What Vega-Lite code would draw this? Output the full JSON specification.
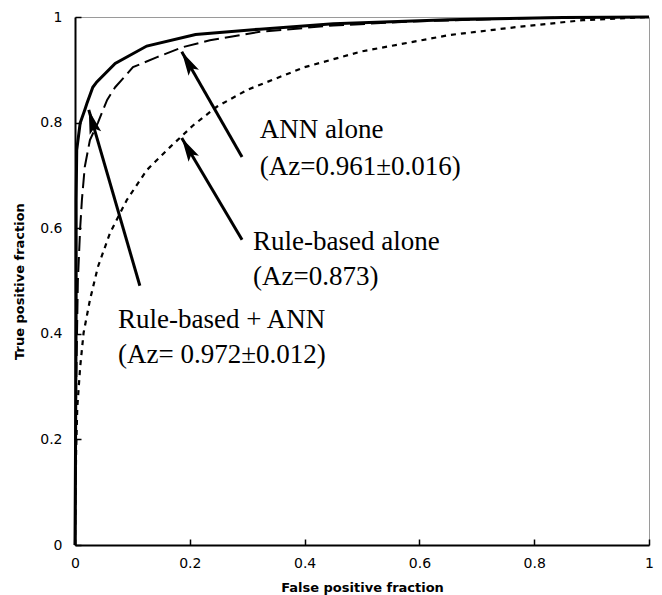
{
  "$schema": "https://vega.github.io/schema/vega-lite/v6.json",
  "width": 574,
  "height": 528,
  "autosize": "none",
  "padding": {"left": 75, "top": 17, "right": 13, "bottom": 50},
  "background": "white",
  "config": {
    "view": {"stroke": "#9a9a9a", "strokeWidth": 1},
    "axis": {
      "domainColor": "black",
      "domainWidth": 2,
      "tickColor": "black",
      "tickWidth": 1.5,
      "tickSize": -6,
      "grid": false,
      "labelFont": "DejaVu Sans",
      "labelFontSize": 14,
      "labelColor": "black",
      "titleFont": "DejaVu Sans",
      "titleFontSize": 13,
      "titleFontWeight": "bold",
      "titleColor": "black"
    }
  },
  "datasets": {
    "roc": [
      {"series": "combo", "fpf": 0, "tpf": 0},
      {"series": "combo", "fpf": 0.001, "tpf": 0.2},
      {"series": "combo", "fpf": 0.002, "tpf": 0.45},
      {"series": "combo", "fpf": 0.002, "tpf": 0.653},
      {"series": "combo", "fpf": 0.003, "tpf": 0.748},
      {"series": "combo", "fpf": 0.009, "tpf": 0.799},
      {"series": "combo", "fpf": 0.017, "tpf": 0.824},
      {"series": "combo", "fpf": 0.021, "tpf": 0.837},
      {"series": "combo", "fpf": 0.031, "tpf": 0.867},
      {"series": "combo", "fpf": 0.038, "tpf": 0.877},
      {"series": "combo", "fpf": 0.07, "tpf": 0.912},
      {"series": "combo", "fpf": 0.125, "tpf": 0.945},
      {"series": "combo", "fpf": 0.21, "tpf": 0.967},
      {"series": "combo", "fpf": 0.322, "tpf": 0.977},
      {"series": "combo", "fpf": 0.45, "tpf": 0.987},
      {"series": "combo", "fpf": 0.65, "tpf": 0.995},
      {"series": "combo", "fpf": 0.85, "tpf": 0.999},
      {"series": "combo", "fpf": 1, "tpf": 1},
      {"series": "ann", "fpf": 0, "tpf": 0},
      {"series": "ann", "fpf": 0.002, "tpf": 0.3},
      {"series": "ann", "fpf": 0.005, "tpf": 0.5},
      {"series": "ann", "fpf": 0.009, "tpf": 0.6},
      {"series": "ann", "fpf": 0.012, "tpf": 0.653},
      {"series": "ann", "fpf": 0.017, "tpf": 0.716},
      {"series": "ann", "fpf": 0.026, "tpf": 0.767},
      {"series": "ann", "fpf": 0.04, "tpf": 0.8},
      {"series": "ann", "fpf": 0.056, "tpf": 0.843},
      {"series": "ann", "fpf": 0.07, "tpf": 0.867},
      {"series": "ann", "fpf": 0.101, "tpf": 0.905},
      {"series": "ann", "fpf": 0.143, "tpf": 0.924},
      {"series": "ann", "fpf": 0.188, "tpf": 0.943},
      {"series": "ann", "fpf": 0.235, "tpf": 0.956},
      {"series": "ann", "fpf": 0.322, "tpf": 0.972},
      {"series": "ann", "fpf": 0.45, "tpf": 0.984},
      {"series": "ann", "fpf": 0.6, "tpf": 0.992},
      {"series": "ann", "fpf": 0.8, "tpf": 0.998},
      {"series": "ann", "fpf": 1, "tpf": 1},
      {"series": "rule", "fpf": 0, "tpf": 0},
      {"series": "rule", "fpf": 0.001, "tpf": 0.1},
      {"series": "rule", "fpf": 0.002, "tpf": 0.18},
      {"series": "rule", "fpf": 0.004, "tpf": 0.261},
      {"series": "rule", "fpf": 0.009, "tpf": 0.337},
      {"series": "rule", "fpf": 0.015, "tpf": 0.402},
      {"series": "rule", "fpf": 0.026, "tpf": 0.464},
      {"series": "rule", "fpf": 0.04, "tpf": 0.527},
      {"series": "rule", "fpf": 0.061, "tpf": 0.591},
      {"series": "rule", "fpf": 0.09, "tpf": 0.653},
      {"series": "rule", "fpf": 0.125, "tpf": 0.71},
      {"series": "rule", "fpf": 0.166, "tpf": 0.754},
      {"series": "rule", "fpf": 0.206, "tpf": 0.795},
      {"series": "rule", "fpf": 0.247, "tpf": 0.83},
      {"series": "rule", "fpf": 0.3, "tpf": 0.862},
      {"series": "rule", "fpf": 0.4, "tpf": 0.905},
      {"series": "rule", "fpf": 0.5, "tpf": 0.935},
      {"series": "rule", "fpf": 0.653, "tpf": 0.966},
      {"series": "rule", "fpf": 0.77, "tpf": 0.981},
      {"series": "rule", "fpf": 0.885, "tpf": 0.994},
      {"series": "rule", "fpf": 1, "tpf": 1}
    ],
    "arrows": [
      {"id": "ann", "tipx": 0.186, "tipy": 0.934, "tailx": 0.291, "taily": 0.735},
      {"id": "rule", "tipx": 0.186, "tipy": 0.771, "tailx": 0.291, "taily": 0.578},
      {"id": "combo", "tipx": 0.024, "tipy": 0.824, "tailx": 0.113, "taily": 0.491}
    ],
    "labels": [
      {"text": "ANN alone", "x": 0.322, "y": 0.786},
      {"text": "(Az=0.961±0.016)", "x": 0.322, "y": 0.716},
      {"text": "Rule-based alone", "x": 0.31, "y": 0.574},
      {"text": "(Az=0.873)", "x": 0.31, "y": 0.508},
      {"text": "Rule-based + ANN", "x": 0.075, "y": 0.426},
      {"text": "(Az= 0.972±0.012)", "x": 0.075, "y": 0.36}
    ]
  },
  "layer": [
    {
      "data": {"name": "roc"},
      "transform": [{"filter": "datum.series === 'rule'"}],
      "mark": {"type": "line", "color": "black", "strokeWidth": 2.2, "strokeDash": [5, 5]},
      "encoding": {
        "x": {"field": "fpf", "type": "quantitative", "scale": {"domain": [0, 1], "nice": false},
          "axis": {"values": [0, 0.2, 0.4, 0.6, 0.8, 1], "format": "~g", "title": "False positive fraction", "labelPadding": 17, "titlePadding": 11, "labelFlush": false}},
        "y": {"field": "tpf", "type": "quantitative", "scale": {"domain": [0, 1], "nice": false},
          "axis": {"values": [0, 0.2, 0.4, 0.6, 0.8, 1], "format": "~g", "title": "True positive fraction", "labelPadding": 19, "titlePadding": 13, "labelFlush": false}},
        "order": {"field": "tpf", "type": "quantitative"}
      }
    },
    {
      "data": {"name": "roc"},
      "transform": [{"filter": "datum.series === 'ann'"}],
      "mark": {"type": "line", "color": "black", "strokeWidth": 2, "strokeDash": [15, 6]},
      "encoding": {
        "x": {"field": "fpf", "type": "quantitative"},
        "y": {"field": "tpf", "type": "quantitative"},
        "order": {"field": "tpf", "type": "quantitative"}
      }
    },
    {
      "data": {"name": "roc"},
      "transform": [{"filter": "datum.series === 'combo'"}],
      "mark": {"type": "line", "color": "black", "strokeWidth": 3},
      "encoding": {
        "x": {"field": "fpf", "type": "quantitative"},
        "y": {"field": "tpf", "type": "quantitative"},
        "order": {"field": "tpf", "type": "quantitative"}
      }
    },
    {
      "data": {"name": "arrows"},
      "mark": {"type": "rule", "color": "black", "strokeWidth": 3},
      "encoding": {
        "x": {"field": "tailx", "type": "quantitative"},
        "y": {"field": "taily", "type": "quantitative"},
        "x2": {"field": "tipx"},
        "y2": {"field": "tipy"}
      }
    },
    {
      "data": {"name": "arrows"},
      "transform": [{"filter": "datum.id !== 'combo'"}],
      "mark": {"type": "point", "shape": "M0,0L-0.5,2L0,1.6L0.5,2Z", "filled": true, "color": "black", "opacity": 1, "size": 576, "angle": 330},
      "encoding": {
        "x": {"field": "tipx", "type": "quantitative"},
        "y": {"field": "tipy", "type": "quantitative"}
      }
    },
    {
      "data": {"name": "arrows"},
      "transform": [{"filter": "datum.id === 'combo'"}],
      "mark": {"type": "point", "shape": "M0,0L-0.5,2L0,1.6L0.5,2Z", "filled": true, "color": "black", "opacity": 1, "size": 576, "angle": 344},
      "encoding": {
        "x": {"field": "tipx", "type": "quantitative"},
        "y": {"field": "tipy", "type": "quantitative"}
      }
    },
    {
      "data": {"name": "labels"},
      "mark": {"type": "text", "font": "Liberation Serif", "fontSize": 27, "align": "left", "baseline": "middle", "color": "black"},
      "encoding": {
        "x": {"field": "x", "type": "quantitative"},
        "y": {"field": "y", "type": "quantitative"},
        "text": {"field": "text"}
      }
    }
  ]
}
